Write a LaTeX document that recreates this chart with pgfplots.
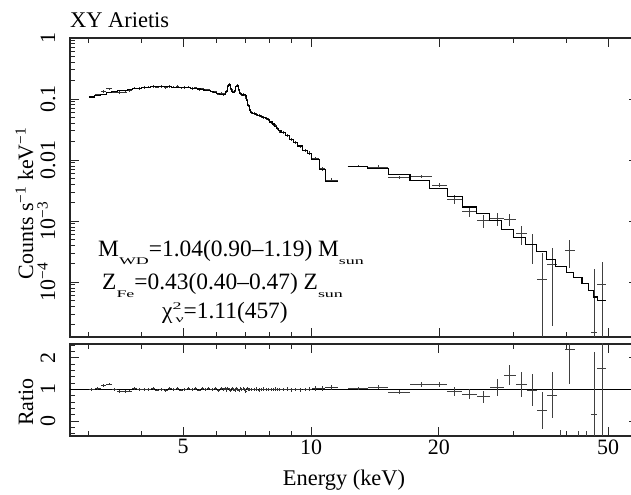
\documentclass[border=0pt]{standalone}
\usepackage{graphicx}
\usepackage{pgfplots}
\pgfplotsset{compat=1.18}
\usepackage{pgfplotstable}
\usepackage{fontspec}
\setmainfont{Liberation Serif}

% squashed sub/superscripts as in the original annotation
\newcommand\lowsub[2][7.3bp]{\raisebox{-#1}{\scalebox{1}[0.57]{\fontsize{18}{18}\selectfont #2}}}
\newcommand\highsup[1]{\raisebox{9bp}{\scalebox{1}[0.57]{\fontsize{18}{18}\selectfont #1}}}

% XIS bins: left edge, centre, half width, model, data, ratio, ratio error
\pgfplotstableread{
lo    c      dx    m       d       r     re
3.0   3.05   0.05  0.108   0.1080  1.00  0.045
3.1   3.15   0.05  0.114   0.1174  1.03  0.045
3.2   3.25   0.05  0.119   0.1333  1.12  0.045
3.3   3.35   0.05  0.126   0.1474  1.17  0.045
3.4   3.45   0.05  0.131   0.1297  0.99  0.045
3.5   3.55   0.05  0.136   0.1278  0.94  0.045
3.6   3.65   0.05  0.140   0.1302  0.93  0.045
3.7   3.75   0.05  0.144   0.1368  0.95  0.045
3.8   3.85   0.05  0.148   0.1510  1.02  0.045
3.9   3.95   0.05  0.151   0.1495  0.99  0.045
4.0   4.05   0.05  0.154   0.1555  1.01  0.045
4.1   4.15   0.05  0.156   0.1560  1.00  0.045
4.2   4.25   0.05  0.158   0.1612  1.02  0.045
4.3   4.35   0.05  0.159   0.1558  0.98  0.045
4.4   4.45   0.05  0.159   0.1606  1.01  0.045
4.5   4.55   0.05  0.159   0.1542  0.97  0.045
4.6   4.65   0.05  0.158   0.1612  1.02  0.045
4.7   4.75   0.05  0.157   0.1570  1.00  0.045
4.8   4.85   0.05  0.156   0.1607  1.03  0.045
4.9   4.95   0.05  0.155   0.1519  0.98  0.045
5.0   5.05   0.05  0.154   0.1555  1.01  0.045
5.1   5.15   0.05  0.152   0.1566  1.03  0.045
5.2   5.25   0.05  0.151   0.1495  0.99  0.045
5.3   5.35   0.05  0.149   0.1520  1.02  0.045
5.4   5.45   0.05  0.146   0.1431  0.98  0.045
5.5   5.55   0.05  0.143   0.1473  1.03  0.045
5.6   5.65   0.05  0.140   0.1414  1.01  0.045
5.7   5.75   0.05  0.136   0.1414  1.04  0.045
5.8   5.85   0.05  0.132   0.1307  0.99  0.045
5.9   5.95   0.05  0.128   0.1306  1.02  0.045
6.0   6.05   0.05  0.124   0.1203  0.97  0.045
6.1   6.15   0.05  0.120   0.1236  1.03  0.045
6.20  6.225  0.025 0.118   0.1180  1.00  0.05
6.25  6.275  0.025 0.120   0.1236  1.03  0.05
6.30  6.325  0.025 0.135   0.1323  0.98  0.05
6.35  6.375  0.025 0.160   0.1632  1.02  0.05
6.40  6.425  0.025 0.170   0.1717  1.01  0.05
6.45  6.475  0.025 0.150   0.1455  0.97  0.05
6.50  6.525  0.025 0.133   0.1370  1.03  0.05
6.55  6.575  0.025 0.130   0.1300  1.00  0.05
6.60  6.625  0.025 0.140   0.1372  0.98  0.05
6.65  6.675  0.025 0.160   0.1632  1.02  0.05
6.70  6.725  0.025 0.165   0.1667  1.01  0.05
6.75  6.775  0.025 0.145   0.1407  0.97  0.05
6.80  6.825  0.025 0.122   0.1244  1.02  0.05
6.85  6.875  0.025 0.118   0.1180  1.00  0.05
6.90  6.925  0.025 0.116   0.1206  1.04  0.05
6.95  6.975  0.025 0.118   0.1168  0.99  0.05
7.00  7.025  0.025 0.112   0.1064  0.95  0.05
7.05  7.075  0.025 0.095   0.0969  1.02  0.05
7.10  7.125  0.025 0.078   0.0780  1.00  0.05
7.15  7.175  0.025 0.066   0.0667  1.01  0.05
7.2   7.25   0.05  0.061   0.0604  0.99  0.055
7.3   7.35   0.05  0.058   0.0580  1.00  0.055
7.4   7.45   0.05  0.056   0.0566  1.01  0.055
7.5   7.55   0.05  0.054   0.0529  0.98  0.055
7.6   7.65   0.05  0.052   0.0520  1.00  0.055
7.7   7.75   0.05  0.050   0.0505  1.01  0.055
7.8   7.85   0.05  0.048   0.0475  0.99  0.055
7.9   7.95   0.05  0.046   0.0460  1.00  0.055
8.0   8.05   0.05  0.042   0.0420  1.00  0.055
8.1   8.15   0.05  0.039   0.0386  0.99  0.055
8.2   8.25   0.05  0.036   0.0364  1.01  0.055
8.3   8.35   0.05  0.033   0.0330  1.00  0.055
8.4   8.45   0.05  0.030   0.0297  0.99  0.055
8.5   8.6    0.10  0.028   0.0280  1.00  0.055
8.7   8.8    0.10  0.025   0.0253  1.01  0.055
8.9   9.0    0.10  0.022   0.0218  0.99  0.06
9.1   9.2    0.10  0.0195  0.0195  1.00  0.06
9.3   9.42   0.12  0.0170  0.0168  0.99  0.06
9.55  9.68   0.13  0.0145  0.0145  1.00  0.06
9.8   9.92   0.12  0.0129  0.0130  1.01  0.065
10.05 10.25  0.20  0.0103  0.0106  1.03  0.07
10.45 10.62  0.17  0.0069  0.0072  1.04  0.075
10.8  11.2   0.40  0.0045  0.0047  1.05  0.08
11.6  nan    0     0.0045  nan     nan   nan
}\xisdata

% HXD folded model: left edge of each step and its level
\pgfplotstableread{
lo    m
12.2  0.0078
13.6  0.0073
15.2  0.0057
17.1  0.0047
19.0  0.0034
20.9  0.0025
22.7  0.0017
24.5  0.00134
26.3  0.00103
28.1  0.00074
30.0  0.00054
31.9  0.00042
34.0  0.00032
35.9  0.000235
37.6  0.000183
40.0  0.000146
41.5  0.000118
43.4  0.000094
45.0  0.000073
46.3  0.000057
47.3  0.000050
49.5  0.000050
}\hxdmodel

% HXD data: centre, half width, rate, errors (+/-), ratio, ratio error
\pgfplotstableread{
c      dx    d         ep        em        r      re
12.9   0.70  0.0080    0.00040   0.00040   1.04   0.05
14.4   0.80  0.0077    0.00044   0.00044   1.07   0.06
16.15  0.95  0.0052    0.00034   0.00034   0.91   0.06
18.2   1.10  0.0054    0.00033   0.00033   1.15   0.07
20.1   0.80  0.0039    0.00027   0.00027   1.15   0.08
21.75  0.85  0.0023    0.00038   0.00038   0.93   0.15
23.6   1.00  0.00145   0.00029   0.00029   0.855  0.17
25.5   0.90  0.00103   0.00025   0.00025   0.77   0.19
27.4   1.00  0.00109   0.00027   0.00027   1.06   0.26
29.35  0.95  0.00107   0.00024   0.00024   1.45   0.32
31.25  0.95  0.00062   0.00022   0.00022   1.15   0.40
33.1   0.90  0.00041   0.00021   0.00021   0.98   0.50
34.95  0.95  0.000109  0.000186  0.000108  0.34   0.58
36.9   1.00  0.000193  0.000174  0.000174  0.82   0.74
38.7   0.80  nan       nan       nan       -1.2   0.90
40.65  1.15  0.00033   0.00016   0.00016   2.27   1.10
42.6   0.90  nan       nan       nan       -1.1   0.78
44.5   0.60  nan       nan       nan       -1.0   0.68
46.35  0.85  0.000015  0.000146  0.000014  0.20   2.00
48.35  1.15  0.00009   0.000125  0.000089  1.68   2.50
}\hxddata

\begin{document}
\begin{tikzpicture}[x=1bp, y=1bp]

% spectrum panel
\begin{axis}[
  at={(70bp,158bp)}, anchor=south west,
  scale only axis, width=568bp, height=299bp,
  xmode=log, ymode=log,
  xmin=2.71, xmax=58.8, ymin=1.26e-5, ymax=1,
  xtick={5,10,20,50}, minor xtick={3,4,6,7,8,9,30,40},
  xticklabels={},
  ytick={1e-4,1e-3,1e-2,1e-1,1},
  yticklabels={10\textsuperscript{−4},10\textsuperscript{−3},0.01,0.1,1},
  minor ytick={2e-5,3e-5,4e-5,5e-5,6e-5,7e-5,8e-5,9e-5,
               2e-4,3e-4,4e-4,5e-4,6e-4,7e-4,8e-4,9e-4,
               2e-3,3e-3,4e-3,5e-3,6e-3,7e-3,8e-3,9e-3,
               0.02,0.03,0.04,0.05,0.06,0.07,0.08,0.09,
               0.2,0.3,0.4,0.5,0.6,0.7,0.8,0.9},
  tick align=inside, xtick pos=both, ytick pos=both,
  major tick length=9bp, minor tick length=5bp,
  axis line style={black!85, line width=1.2bp},
  tick style={black!85, line width=0.9bp},
  tick label style={font=\fontsize{22}{26}\selectfont},
  yticklabel style={xshift=-15bp, rotate=90, anchor=base, inner sep=0pt},
]
\addplot[draw=none, mark=none,
         error bars/.cd, x dir=both, x explicit, y dir=both, y explicit relative,
         error mark=none, error bar style={draw=black!80, line width=0.9bp}]
  table[x=c, y=d, x error=dx, y error=re] {\xisdata};
\addplot[draw=none, mark=none,
         error bars/.cd, x dir=both, x explicit, y dir=both, y explicit,
         error mark=none, error bar style={draw=black!75, line width=0.8bp}]
  table[x=c, y=d, x error=dx, y error plus=ep, y error minus=em] {\hxddata};
\addplot[const plot mark left, black, line width=1.1bp] table[x=lo, y=m] {\xisdata};
\addplot[const plot mark left, black, line width=1.1bp] table[x=lo, y=m] {\hxdmodel};
\end{axis}

% ratio panel
\begin{axis}[
  at={(70bp,59bp)}, anchor=south west,
  scale only axis, width=568bp, height=92bp,
  xmode=log,
  xmin=2.71, xmax=58.8, ymin=-0.476, ymax=2.44,
  xtick={5,10,20,50}, minor xtick={3,4,6,7,8,9,30,40},
  xticklabels={5,10,20,50},
  ytick={0,1,2}, yticklabels={0,1,2},
  minor ytick={-0.4,-0.2,0.2,0.4,0.6,0.8,1.2,1.4,1.6,1.8,2.2,2.4},
  tick align=inside, xtick pos=both, ytick pos=both,
  major tick length=9bp, minor tick length=5bp,
  axis line style={black!85, line width=1.2bp},
  tick style={black!85, line width=0.9bp},
  tick label style={font=\fontsize{22}{26}\selectfont},
  yticklabel style={xshift=-15bp, rotate=90, anchor=base, inner sep=0pt},
]
\addplot[black, line width=1bp] coordinates {(2.71,1) (58.8,1)};
\addplot[draw=none, mark=none,
         error bars/.cd, x dir=both, x explicit, y dir=both, y explicit,
         error mark=none, error bar style={draw=black!80, line width=0.9bp}]
  table[x=c, y=r, x error=dx, y error=re] {\xisdata};
\addplot[draw=none, mark=none,
         error bars/.cd, x dir=both, x explicit, y dir=both, y explicit,
         error mark=none, error bar style={draw=black!75, line width=0.8bp}]
  table[x=c, y=r, x error=dx, y error=re] {\hxddata};
\end{axis}

% titles and labels
\node[anchor=base west, inner sep=0pt, font=\fontsize{22.5}{26}\selectfont] at (70,467) {XY Arietis};
\node[anchor=base, inner sep=0pt, rotate=90, font=\fontsize{22}{26}\selectfont] at (33,291.5)
  {Counts s\textsuperscript{−1} keV\textsuperscript{−1}};
\node[anchor=base, inner sep=0pt, rotate=90, font=\fontsize{22}{26}\selectfont] at (33,93) {Ratio};
\node[anchor=base, inner sep=0pt, font=\fontsize{22.5}{26}\selectfont] at (344,9) {Energy (keV)};

% fit results
\begin{scope}[every node/.style={anchor=base west, inner sep=0pt, font=\fontsize{23.5}{28}\selectfont}]
\node at (98,238) {M\lowsub{WD}=1.04(0.90–1.19) M\lowsub{sun}};
\node at (102,205) {Z\lowsub{Fe}=0.43(0.40–0.47) Z\lowsub{sun}};
\node at (162,176) {χ\rlap{\highsup{2}}\hspace{3bp}\lowsub[3.5bp]{ν}=1.11(457)};
\end{scope}

\pgfresetboundingbox
\path[use as bounding box] (0,0) rectangle (631,495);
\end{tikzpicture}
\end{document}
